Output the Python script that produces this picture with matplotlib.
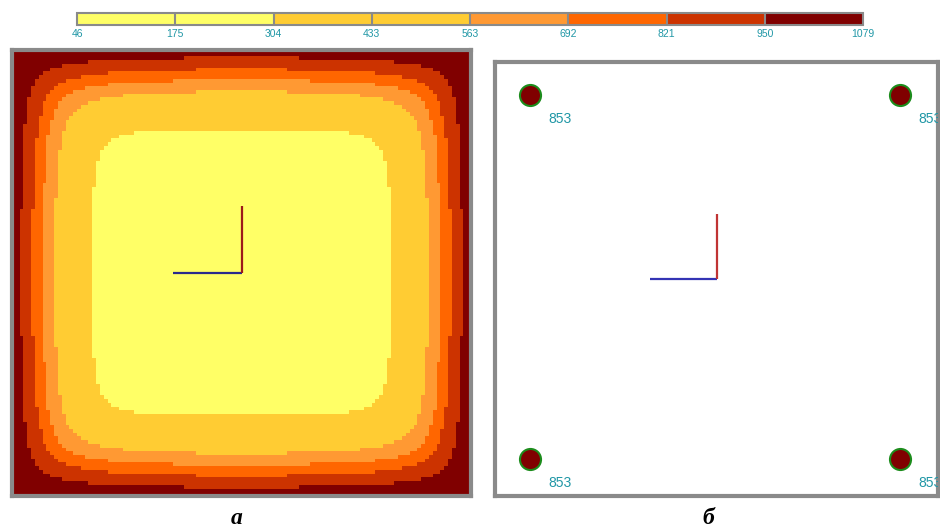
import numpy as np
import matplotlib
matplotlib.use("Agg")
import matplotlib.pyplot as plt
from matplotlib.colors import ListedColormap, BoundaryNorm
import matplotlib.colorbar as mcolorbar

# ---------------- data ----------------
levels = [46, 175, 304, 433, 563, 692, 821, 950, 1079]
level_labels = ["46", "175", "304", "433", "563", "692", "821", "950", "1079"]
bin_colors = ["#ffff66", "#ffff66", "#ffcc33", "#ffcc33", "#ff9933",
              "#ff6600", "#cc3300", "#800000"]

# value profile from plate edge towards centre (distance in px of the map, value)
profile_dist = [0, 4, 16, 28, 40, 79, 125, 227]
profile_val = [1020, 950, 821, 692, 563, 304, 150, 110]
# corner roundness of each contour (smaller = rounder corner)
profile_round = [0.34, 0.36, 0.75, 1.2, 1.6, 4.0, 6.0, 6.0]

# sensors in right panel (plate coords 0..100)
sensor_x = [8.0, 91.5, 8.0, 91.5]
sensor_y = [92.4, 92.4, 8.5, 8.5]
sensor_val = [853, 853, 853, 853]

# local axes indicator (origin and length, plate coords)
axis_origin = (50.0, 50.0)
axis_len = 15.0

panel_labels = ["а", "б"]

# ---------------- figure ----------------
W, H = 940, 531
fig = plt.figure(figsize=(W / 100, H / 100), dpi=100)
fig.patch.set_facecolor("white")

def px_axes(x0, y0, x1, y1):
    return fig.add_axes([x0 / W, 1 - y1 / H, (x1 - x0) / W, (y1 - y0) / H])

cmap = ListedColormap(bin_colors)
norm = BoundaryNorm(levels, cmap.N)
frame_col = "#8a8a8a"
teal = "#2097a6"

# colorbar
cax = px_axes(77, 13, 863, 25)
cb = mcolorbar.ColorbarBase(cax, cmap=cmap, norm=norm, orientation="horizontal",
                            boundaries=levels, ticks=levels, drawedges=True)
cb.outline.set_edgecolor(frame_col)
cb.outline.set_linewidth(1.5)
cb.dividers.set_color(frame_col)
cb.dividers.set_linewidth(1.5)
cax.set_xticklabels(level_labels)
cax.tick_params(axis="x", length=0, pad=3, labelsize=7.5, labelcolor=teal)
for t in cax.get_xticklabels():
    t.set_family("Liberation Sans")

# left panel: field map
axL = px_axes(12, 49.5, 471, 496)
n = 120
xs = (np.arange(n) + 0.5) / n * 100
X, Y = np.meshgrid(xs, xs)
dx = np.maximum(np.minimum(X, 100 - X) * 4.54, 0.5)
dy = np.maximum(np.minimum(Y, 100 - Y) * 4.42, 0.5)
d_eff = np.minimum(dx, dy)
for _ in range(12):
    p = np.interp(d_eff, profile_dist, profile_round)
    d_eff = (dx ** -p + dy ** -p) ** (-1 / p)
V = np.interp(d_eff, profile_dist, profile_val)
axL.imshow(V, origin="lower", extent=[0, 100, 0, 100], aspect="auto",
           interpolation="nearest", cmap=cmap, norm=norm)
axL.set_xlim(0, 100)
axL.set_ylim(0, 100)

# right panel: sensors
axR = px_axes(495, 62, 938, 496)
axR.set_xlim(0, 100)
axR.set_ylim(0, 100)
axR.scatter(sensor_x, sensor_y, s=230, c="#800000", edgecolors="#1c8c1c",
            linewidths=1.5, zorder=3)
for sx, sy, sv in zip(sensor_x, sensor_y, sensor_val):
    axR.annotate(str(sv), (sx, sy), xytext=(21, -17.5), textcoords="offset points",
                 ha="center", va="center", fontsize=10, color=teal,
                 family="Liberation Sans", annotation_clip=False, clip_on=True)

for ax, blue, red in [(axL, "#2a2a8c", "#9c1a1a"), (axR, "#3434b4", "#c03434")]:
    ox, oy = axis_origin
    ax.plot([ox - axis_len, ox], [oy, oy], color=blue, lw=1.6, solid_capstyle="butt", zorder=4)
    ax.plot([ox, ox], [oy, oy + axis_len], color=red, lw=1.6, solid_capstyle="butt", zorder=4)
    ax.set_xticks([])
    ax.set_yticks([])
    for sp in ax.spines.values():
        sp.set_color(frame_col)
        sp.set_linewidth(3.0)

fig.text(237 / W, 1 - 519 / H, panel_labels[0], ha="center", va="center",
         fontsize=17, family="Liberation Serif", weight="bold", style="italic")
fig.text(708 / W, 1 - 518 / H, panel_labels[1], ha="center", va="center",
         fontsize=17, family="Liberation Serif", weight="bold", style="italic")

fig.savefig("out.png", dpi=100, facecolor="white")
